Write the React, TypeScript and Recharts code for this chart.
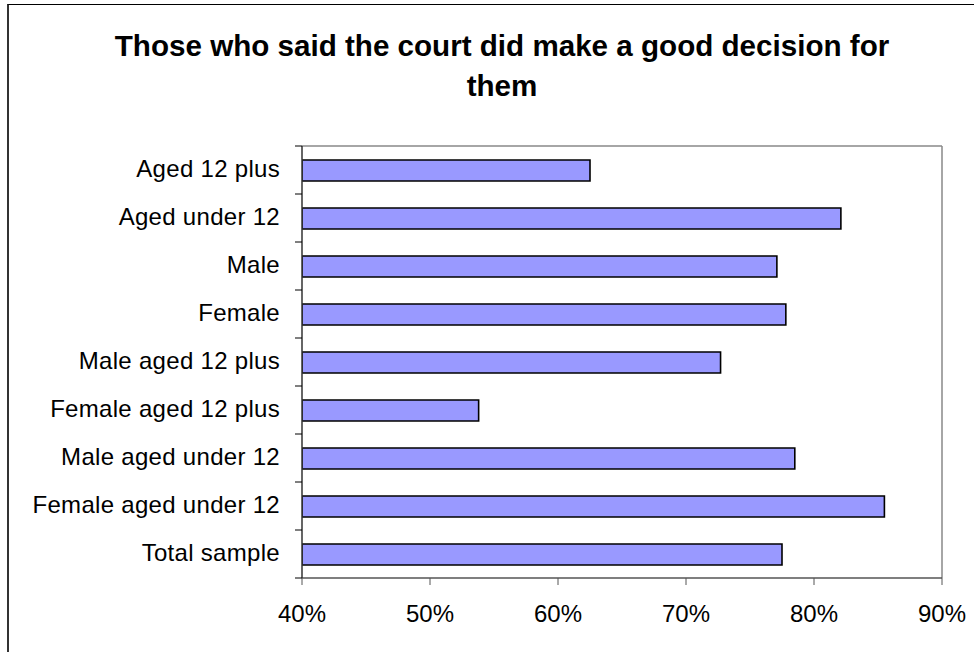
import { BarChart, Bar, XAxis, YAxis, CartesianGrid } from "recharts";

const categories = [
  "Aged 12 plus",
  "Aged under 12",
  "Male",
  "Female",
  "Male aged 12 plus",
  "Female aged 12 plus",
  "Male aged under 12",
  "Female aged under 12",
  "Total sample",
];
const goodDecision = [62.5, 82.1, 77.1, 77.8, 72.7, 53.8, 78.5, 85.5, 77.5];
const xTicks = [40, 50, 60, 70, 80, 90];
const titleLines = ["Those who said the court did make a good decision for", "them"];

const data = categories.map((name, i) => ({ name, value: goodDecision[i] }));

const FONT = "'Liberation Sans', Arial, sans-serif";

// label at band centre, tick marks on the band edges (Excel style)
function CategoryTick(props: any) {
  const { x, y, payload, index, visibleTicksCount } = props;
  const half = payload?.offset ?? 0;
  const isLast = index === visibleTicksCount - 1;
  return (
    <g>
      <text x={x} y={y} dy="0.3em" textAnchor="end" fill="#000" fontSize={24} letterSpacing={0.3} fontFamily={FONT}>
        {payload.value}
      </text>
      <line x1={x + 15} x2={x + 22} y1={y - half} y2={y - half} stroke="#000" strokeWidth={1} />
      {isLast && <line x1={x + 15} x2={x + 22} y1={y + half} y2={y + half} stroke="#000" strokeWidth={1} />}
    </g>
  );
}

export default function App() {
  return (
    <div style={{ position: "absolute", left: 0, top: 0, width: 974, height: 652, background: "#fff", overflow: "hidden" }}>
      <div
        style={{
          position: "absolute", left: 7, top: 4, width: 1000, height: 700,
          borderTop: "1px solid #000", borderLeft: "2px solid #333",
        }}
      />
      <div
        style={{
          position: "absolute", left: 102, top: 26, width: 800, textAlign: "center",
          fontFamily: FONT, fontWeight: "bold", fontSize: 29.6, lineHeight: "40px", color: "#000",
        }}
      >
        {titleLines.map((t) => <div key={t}>{t}</div>)}
      </div>
      <div style={{ position: "absolute", left: 0, top: 0 }}>
        <BarChart
          width={974}
          height={652}
          data={data}
          layout="vertical"
          margin={{ top: 146, right: 32, bottom: 14, left: 22 }}
          barSize={21}
        >
          {/* plot frame: grey top and right edges */}
          <CartesianGrid
            fill="none"
            stroke="#888"
            strokeWidth={1.5}
            horizontalCoordinatesGenerator={({ offset }: any) => [offset.top]}
            verticalCoordinatesGenerator={({ offset }: any) => [offset.left + offset.width]}
          />
          <XAxis
            type="number"
            domain={[40, 90]}
            ticks={xTicks}
            allowDataOverflow
            tickFormatter={(v) => `${v}%`}
            height={60}
            tickSize={7}
            tickMargin={20}
            tick={{ fill: "#000", fontSize: 24, fontFamily: FONT }}
            axisLine={{ stroke: "#555", strokeWidth: 1.5 }}
            tickLine={{ stroke: "#555" }}
          />
          <YAxis
            type="category"
            dataKey="name"
            width={280}
            tickSize={6}
            tickMargin={16}
            tickLine={false}
            tick={<CategoryTick />}
            axisLine={{ stroke: "#333", strokeWidth: 1.5 }}
            interval={0}
          />
          <Bar dataKey="value" fill="#9999ff" stroke="#000" strokeWidth={1.6} isAnimationActive={false} />
        </BarChart>
      </div>
    </div>
  );
}
